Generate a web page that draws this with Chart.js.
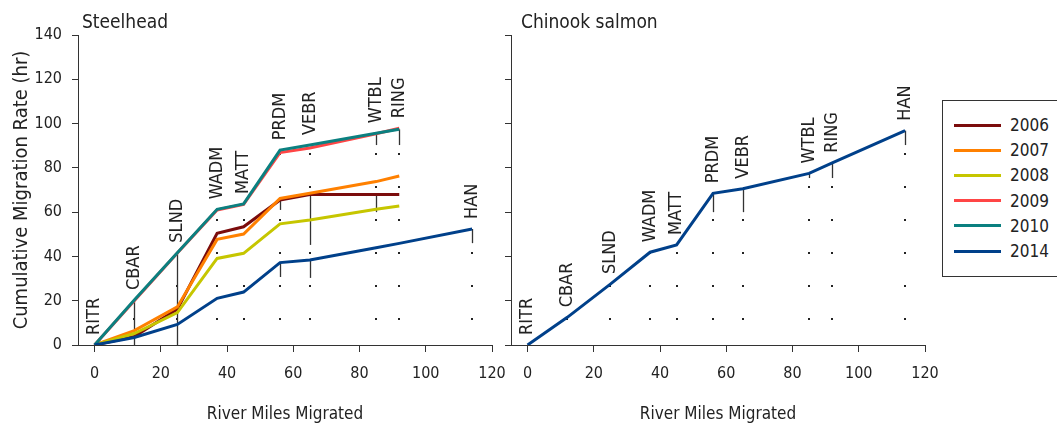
<!DOCTYPE html>
<html>
<head>
<meta charset="utf-8">
<title>Cumulative Migration Rate</title>
<script src="https://cdn.jsdelivr.net/npm/chart.js@4.4.1/dist/chart.umd.min.js"></script>
<style>
    body {
        margin: 0;
        background: #fff;
        width: 1057px;
        height: 425px;
        overflow: hidden;
        position: relative;
        font-family: 'Liberation Sans Narrow', 'Arial Narrow', 'DejaVu Sans Condensed', sans-serif;
    }
    canvas { position: absolute; top: 0; }
    #steelChart { left: 0; }
    #chinookChart { left: 500px; }
    .legend {
        position: absolute;
        left: 942px;
        top: 100px;
        width: 140px;
        height: 175px;
        border: 1px solid #333;
    }
    .legend-row {
        position: absolute;
        left: 11px;
        height: 20px;
        display: flex;
        align-items: center;
        color: #222;
        font-size: 17px;
    }
    .legend-row .swatch { width: 47px; height: 3px; margin-right: 9px; }
</style>
</head>
<body>
<canvas id="steelChart" width="506" height="425"></canvas>
<canvas id="chinookChart" width="440" height="425"></canvas>
<div class="legend" id="legend"></div>

<script>
// Sites and river miles
const sites = ['RITR', 'CBAR', 'SLND', 'WADM', 'MATT', 'PRDM', 'VEBR', 'WTBL', 'RING', 'HAN'];
const miles = [0, 12, 25, 37, 45, 56, 65, 85, 92, 114];

// Steelhead cumulative rate (hr) by year
const years = ['2006', '2007', '2008', '2009', '2010', '2014'];
const steel2006 = [0, 3.8, 16.2, 50.4, 53.4, 65.5, 68.0, 68.0, 68.0, null];
const steel2007 = [0, 6.5, 17.2, 47.7, 50.1, 66.2, 68.5, 73.8, 76.3, null];
const steel2008 = [0, 5.2, 14.6, 39.1, 41.4, 54.7, 56.5, 61.3, 62.8, null];
const steel2009 = [0, 20.0, 41.5, 61.0, 63.5, 86.9, 89.0, 95.4, 97.9, null];
const steel2010 = [0, 20.3, 41.7, 61.3, 63.7, 88.0, 90.3, 95.6, 97.4, null];
const steel2014 = [0, 3.4, 9.3, 21.1, 23.9, 37.2, 38.4, 43.9, 45.9, 52.4];

// Chinook salmon (2014 only)
const chinook2014 = [0, 12.5, 27.5, 41.9, 45.2, 68.5, 70.6, 77.5, 82.3, 96.8];

// Solid drop segments: [site index, low, high]
const steelSegments = [
    [1, 0, 20.3], [2, 0, 41.7],
    [5, 61, 66.2], [5, 30.7, 37.2],
    [6, 45.2, 68.5], [6, 30.3, 38.4],
    [7, 90.3, 95.6], [7, 60, 68],
    [8, 90.3, 97.4],
    [9, 46, 52.4]
];
const chinookSegments = [
    [5, 60, 68.5], [6, 60, 70.6],
    [7, 75.4, 77.5], [8, 75.4, 82.3],
    [9, 90.3, 96.8]
];

const xTicks = [0, 20, 40, 60, 80, 100, 120];
const yTicks = [0, 20, 40, 60, 80, 100, 120, 140];

const colors = ['#7b0c0c', '#ff8000', '#c6c600', '#ff4545', '#0b8080', '#00408a'];

const FONT = "'Liberation Sans Narrow', 'Arial Narrow', 'DejaVu Sans Condensed', sans-serif";
const INK = '#222';
const AXIS = '#333';

function toPoints(values) {
    return miles.map((m, i) => ({ x: m, y: values[i] }));
}

function siteTops(seriesList) {
    return sites.map((s, i) => {
        const vals = seriesList.map(v => v[i]).filter(v => v !== null);
        return Math.max(...vals);
    });
}

// Draws dotted site guides, drop segments, site labels and panel title
const siteMarks = {
    id: 'siteMarks',
    beforeDatasetsDraw(chart, args, opts) {
        const { ctx, scales: { x, y } } = chart;
        const bottom = y.getPixelForValue(0);
        ctx.save();
        ctx.strokeStyle = INK;

        // dotted guides from axis up to top point
        ctx.lineWidth = 2;
        ctx.setLineDash([2, 31]);
        ctx.lineDashOffset = 8;
        opts.tops.forEach((top, i) => {
            if (top <= 0) return;
            const px = Math.round(x.getPixelForValue(miles[i]));
            ctx.beginPath();
            ctx.moveTo(px, bottom);
            ctx.lineTo(px, y.getPixelForValue(top));
            ctx.stroke();
        });

        // solid segments
        ctx.setLineDash([]);
        ctx.lineWidth = 1.3;
        ctx.strokeStyle = '#333';
        opts.segments.forEach(([i, lo, hi]) => {
            const px = Math.round(x.getPixelForValue(miles[i])) + 0.5;
            ctx.beginPath();
            ctx.moveTo(px, y.getPixelForValue(lo));
            ctx.lineTo(px, y.getPixelForValue(hi));
            ctx.stroke();
        });
        ctx.restore();
    },
    afterDraw(chart, args, opts) {
        const { ctx, chartArea, scales: { x, y } } = chart;
        ctx.save();
        ctx.fillStyle = INK;
        ctx.font = '18px ' + FONT;

        // site labels, rotated
        opts.tops.forEach((top, i) => {
            const px = x.getPixelForValue(miles[i]);
            const py = y.getPixelForValue(top) - 10;
            ctx.save();
            ctx.translate(px, py);
            ctx.rotate(-Math.PI / 2);
            ctx.textAlign = 'left';
            ctx.textBaseline = 'middle';
            ctx.fillText(sites[i], 0, 0);
            ctx.restore();
        });

        // panel title
        ctx.font = '19px ' + FONT;
        ctx.textAlign = 'left';
        ctx.textBaseline = 'middle';
        ctx.fillText(opts.title, chartArea.left + opts.titleShift, 23);
        ctx.restore();
    }
};

function makeChart(canvasId, datasets, panel) {
    const ctx = document.getElementById(canvasId);
    return new Chart(ctx, {
        type: 'line',
        data: { datasets },
        options: {
            responsive: false,
            animation: false,
            layout: { padding: { top: 35, right: panel.padRight, left: 0, bottom: 0 } },
            elements: {
                line: { borderWidth: 3, tension: 0, borderJoinStyle: 'miter' },
                point: { radius: 0 }
            },
            plugins: {
                legend: { display: false },
                tooltip: { enabled: false },
                siteMarks: {
                    tops: panel.tops,
                    segments: panel.segments,
                    title: panel.title,
                    titleShift: panel.titleShift
                }
            },
            scales: {
                x: {
                    type: 'linear',
                    min: -5,
                    max: 120,
                    afterBuildTicks: scale => { scale.ticks = xTicks.map(v => ({ value: v })); },
                    afterFit: scale => {
                        scale.height = 80;
                        scale.paddingLeft = 0;
                        scale.paddingRight = 0;
                    },
                    grid: { drawOnChartArea: false, drawTicks: true, tickLength: 7, color: AXIS },
                    border: { display: true, color: AXIS, width: 1 },
                    ticks: { color: INK, padding: 12, maxRotation: 0, font: { family: FONT, size: 16 } },
                    title: {
                        display: true,
                        text: 'River Miles Migrated',
                        color: INK,
                        padding: { top: 0, bottom: 0 },
                        font: { family: FONT, size: 17 }
                    }
                },
                y: {
                    min: 0,
                    max: 140,
                    afterBuildTicks: scale => { scale.ticks = yTicks.map(v => ({ value: v })); },
                    afterFit: scale => {
                        scale.width = panel.yWidth;
                        scale.paddingTop = 0;
                        scale.paddingBottom = 0;
                    },
                    grid: { drawOnChartArea: false, drawTicks: true, tickLength: 6, color: AXIS },
                    border: { display: true, color: AXIS, width: 1 },
                    ticks: { display: panel.showY, color: INK, padding: 10, font: { family: FONT, size: 16 } },
                    title: {
                        display: panel.showY,
                        text: 'Cumulative Migration Rate (hr)',
                        color: INK,
                        padding: { top: 10, bottom: 0 },
                        font: { family: FONT, size: 20 }
                    }
                }
            }
        },
        plugins: [siteMarks]
    });
}

const steelSeries = [steel2006, steel2007, steel2008, steel2009, steel2010, steel2014];
// later years drawn on top
const drawOrder = [6, 5, 4, 3, 2, 1];

const steelDatasets = steelSeries.map((vals, k) => ({
    label: years[k],
    data: toPoints(vals),
    borderColor: colors[k],
    backgroundColor: colors[k],
    order: drawOrder[k]
}));

const chinookDatasets = [{
    label: '2014',
    data: toPoints(chinook2014),
    borderColor: colors[5],
    backgroundColor: colors[5]
}];

makeChart('steelChart', steelDatasets, {
    title: 'Steelhead',
    titleShift: 4,
    tops: siteTops(steelSeries),
    segments: steelSegments,
    yWidth: 78,
    showY: true,
    padRight: 14
});

makeChart('chinookChart', chinookDatasets, {
    title: 'Chinook salmon',
    titleShift: 10,
    tops: siteTops([chinook2014]),
    segments: chinookSegments,
    yWidth: 11,
    showY: false,
    padRight: 15
});

// Legend box
const legend = document.getElementById('legend');
legend.innerHTML = years.map((yr, k) => `
    <div class="legend-row" style="top:${14 + k * 25.2}px">
        <span class="swatch" style="background:${colors[k]}"></span>${yr}
    </div>
`).join('');
</script>
</body>
</html>
